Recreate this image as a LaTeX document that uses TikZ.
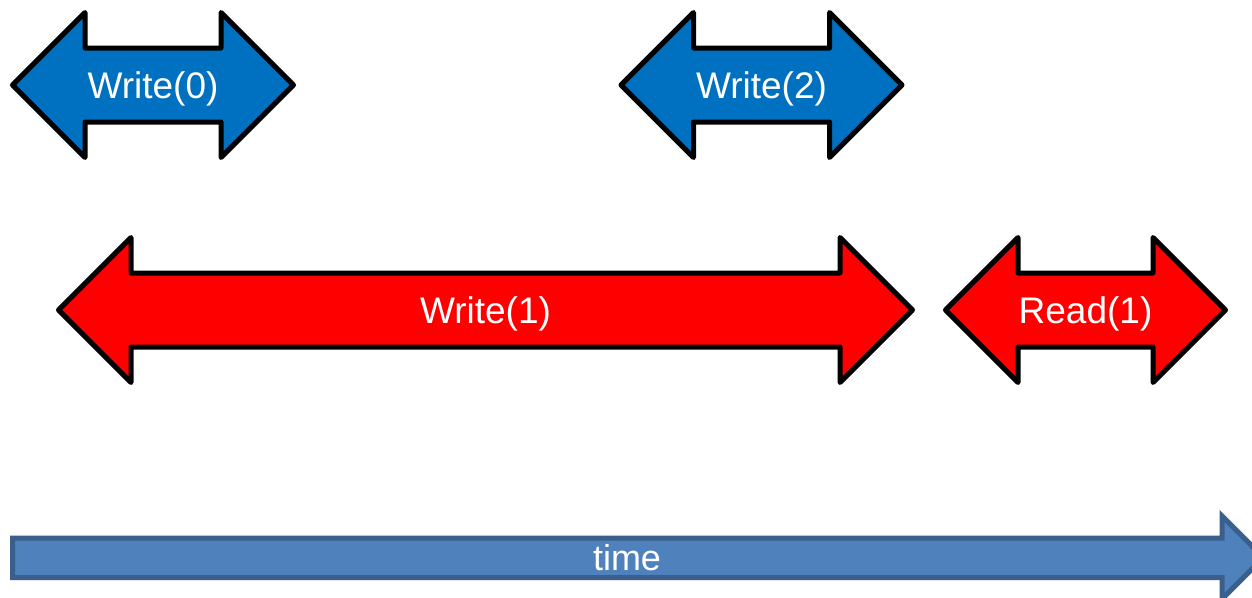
\documentclass[tikz,border=0pt]{standalone}
\usepackage{fontspec}
\setmainfont{Liberation Sans}
\definecolor{opblue}{HTML}{0070C0}
\definecolor{opred}{HTML}{FF0000}
\definecolor{timefill}{HTML}{4F81BD}
\definecolor{timeedge}{HTML}{3A5F8D}
% double-headed operation arrow: style, left tip x, right tip x, centre y
\newcommand{\twoway}[4]{%
  \draw[#1] (#2,#4) -- ({#2+72.5},{#4-72.5}) -- ({#2+72.5},{#4-37})
    -- ({#3-72.5},{#4-37}) -- ({#3-72.5},{#4-72.5}) -- (#3,#4)
    -- ({#3-72.5},{#4+72.5}) -- ({#3-72.5},{#4+37})
    -- ({#2+72.5},{#4+37}) -- ({#2+72.5},{#4+72.5}) -- cycle;}
\begin{document}
\begin{tikzpicture}[x=1pt,y=-1pt,
  opshape/.style={draw=black,line width=5pt,line join=round},
  writeop/.style={opshape,fill=opblue},
  readop/.style={opshape,fill=opred},
  lbl/.style={anchor=base,inner sep=0pt,text=white,font=\fontsize{37}{40}\selectfont},
  timelbl/.style={lbl,font=\fontsize{36}{40}\selectfont},
  timearrow/.style={draw=timeedge,fill=timefill,line width=5pt,line join=miter}]
  \clip (0,0) rectangle (1252,597);
  \fill[white] (0,0) rectangle (1252,597);

  % operations on the first row
  \twoway{writeop}{12.5}{293.5}{85}
  \twoway{writeop}{621}{902}{85}
  \node[lbl] (w0) at (153,98.3) {Write(0)};
  \node[lbl] (w2) at (761.5,98.3) {Write(2)};

  % operations on the second row
  \twoway{readop}{58.5}{912.5}{310}
  \twoway{readop}{945.5}{1225.5}{310}
  \node[lbl] (w1) at (485.5,323.3) {Write(1)};
  \node[lbl] (r1) at (1085.5,323.3) {Read(1)};

  % time axis
  \draw[timearrow] (12.5,538) -- (1222,538) -- (1222,516) -- (1263.5,557.5)
    -- (1222,599) -- (1222,577.5) -- (12.5,577.5) -- cycle;
  \node[timelbl] (t) at (627,570.5) {time};
\end{tikzpicture}
\end{document}
